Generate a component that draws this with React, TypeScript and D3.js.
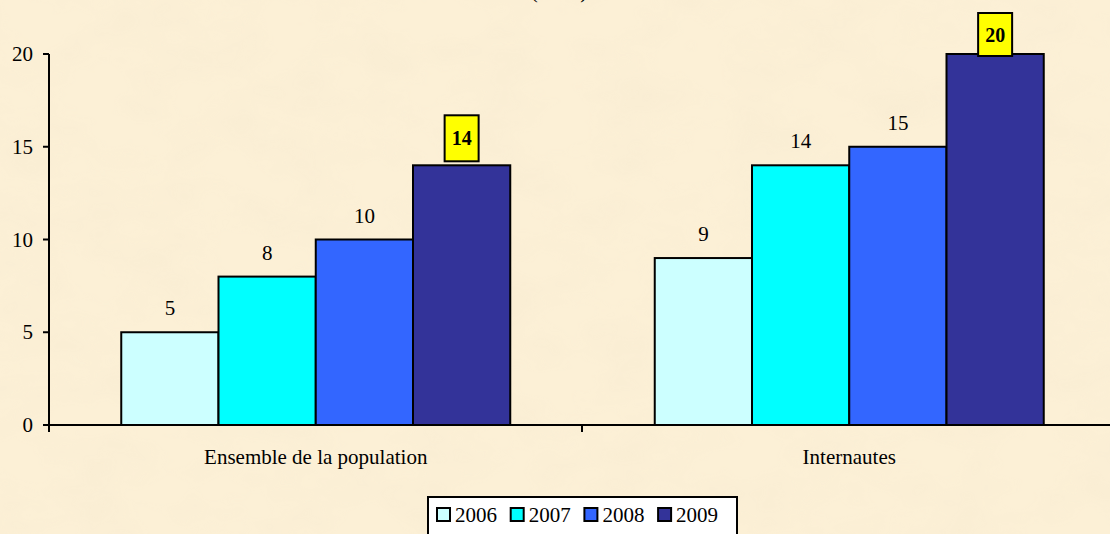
import React from 'react';
import * as d3 from 'd3';

const categories = ['Ensemble de la population', 'Internautes'];
const years = ['2006', '2007', '2008', '2009'];
const values2006 = [5, 9];
const values2007 = [8, 14];
const values2008 = [10, 15];
const values2009 = [14, 20];
const yTicks = [0, 5, 10, 15, 20];
const colors = ['#ccffff', '#00ffff', '#3366ff', '#333399'];

const W = 1110;
const H = 534;
const font = '"Liberation Serif", "Times New Roman", serif';

export default function App() {
  const series = [values2006, values2007, values2008, values2009];

  const x0 = d3.scaleBand<string>().domain(categories).range([49, 1116]).paddingInner(0).paddingOuter(0);
  const x1 = d3.scaleBand<string>().domain(years).range([0, 389]);
  const groupOffset = (x0.bandwidth() - 389) / 2;
  const y = d3.scaleLinear().domain([0, 20]).range([425, 54]);

  return (
    <svg width={W} height={H} style={{ position: 'absolute', left: 0, top: 0 }}>
      <defs>
        <filter id="parch" x="0" y="0" width="100%" height="100%">
          <feTurbulence type="fractalNoise" baseFrequency="0.015 0.025" numOctaves="3" seed="4" result="n" />
          <feColorMatrix in="n" type="matrix"
            values="0 0 0 0 0.93  0 0 0 0 0.83  0 0 0 0 0.64  0 0 0 1.6 -0.6" />
        </filter>
      </defs>
      <rect width={W} height={H} fill="#fcf0d6" />
      <rect width={W} height={H} filter="url(#parch)" opacity={0.6} />

      {/* titre coupé en haut */}
      <text x={559} y={-2} textAnchor="middle" fontFamily={font} fontSize={21}>(en %)</text>

      {/* axe Y */}
      <line x1={49} x2={49} y1={y(20)} y2={y(0) + 7} stroke="#000" strokeWidth={2} />
      {yTicks.map(t => (
        <g key={t}>
          <line x1={43} x2={49} y1={y(t)} y2={y(t)} stroke="#000" strokeWidth={2} />
          <text x={33} y={y(t) + 7} textAnchor="end" fontFamily={font} fontSize={21}>{t}</text>
        </g>
      ))}

      {/* barres */}
      {categories.map((c, ci) => (
        <g key={c}>
          {years.map((yr, si) => {
            const v = series[si][ci];
            const bx = (x0(c) as number) + groupOffset + (x1(yr) as number);
            const bw = x1.bandwidth();
            return (
              <rect key={yr} x={bx} y={y(v)} width={bw} height={y(0) - y(v)}
                fill={colors[si]} stroke="#000" strokeWidth={2} />
            );
          })}
        </g>
      ))}

      {/* étiquettes */}
      {categories.map((c, ci) => (
        <g key={c + '-lbl'}>
          {years.map((yr, si) => {
            const v = series[si][ci];
            const cx = (x0(c) as number) + groupOffset + (x1(yr) as number) + x1.bandwidth() / 2;
            if (si === years.length - 1) {
              const boxTop = Math.max(y(v) - 50, 13);
              const boxBottom = Math.max(y(v) - 4, boxTop + 43);
              return (
                <g key={yr}>
                  <rect x={cx - 17} y={boxTop} width={34} height={boxBottom - boxTop}
                    fill="#ffff00" stroke="#000" strokeWidth={2} />
                  <text x={cx} y={(boxTop + boxBottom) / 2 + 7} textAnchor="middle"
                    fontFamily={font} fontSize={20} fontWeight="bold">{v}</text>
                </g>
              );
            }
            return (
              <text key={yr} x={cx} y={y(v) - 17} textAnchor="middle" fontFamily={font} fontSize={21}>{v}</text>
            );
          })}
        </g>
      ))}

      {/* axe X */}
      <line x1={43} x2={W} y1={y(0)} y2={y(0)} stroke="#000" strokeWidth={2} />
      <line x1={582} x2={582} y1={y(0)} y2={y(0) + 7} stroke="#000" strokeWidth={2} />
      {categories.map(c => (
        <text key={c} x={(x0(c) as number) + x0.bandwidth() / 2} y={464} textAnchor="middle"
          fontFamily={font} fontSize={21}>{c}</text>
      ))}

      {/* légende */}
      <rect x={428} y={497} width={309} height={50} fill="#ffffff" stroke="#000" strokeWidth={2} />
      {years.map((yr, i) => (
        <g key={yr} transform={`translate(${437 + i * 73.7},0)`}>
          <rect x={0} y={508} width={13} height={13} fill={colors[i]} stroke="#000" strokeWidth={2} />
          <text x={18} y={522} fontFamily={font} fontSize={21}>{yr}</text>
        </g>
      ))}
    </svg>
  );
}
